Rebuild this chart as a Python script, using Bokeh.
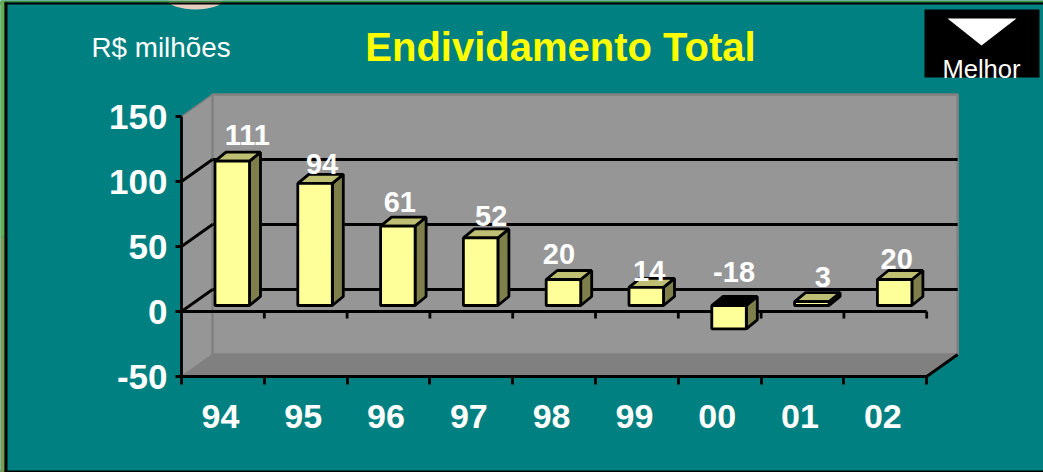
from bokeh.plotting import figure
from bokeh.embed import file_html
from bokeh.resources import INLINE
from bokeh.models import FixedTicker, ColumnDataSource, Range1d, LinearAxis
from bokeh.core.properties import value

# ---- data ----
categories = ["94", "95", "96", "97", "98", "99", "00", "01", "02"]
values = [111, 94, 61, 52, 20, 14, -18, 3, 20]
y_ticks = [-50, 0, 50, 100, 150]
y_tick_labels = ["-50", "0", "50", "100", "150"]
title_text = "Endividamento Total"
unit_text = "R$ milhões"
badge_text = "Melhor"

# ---- styles ----
TEAL = "#008080"
WALL = "#969696"
FLOOR = "#808080"
FRONT = "#FFFF99"
TOP = "#BFBF73"
SIDE = "#7F7F4C"
FONT = "Liberation Sans"
PX_X = 82.8   # pixels per category
PX_Y = 1.3    # pixels per unit
WALL_DX, WALL_DY = 31 / PX_X, 22 / PX_Y
BAR_DX, BAR_DY = 11 / PX_X, 9 / PX_Y
BAR_LEFT, BAR_W = 33.5 / PX_X, 34.5 / PX_X
BASE = 6 / PX_Y
ABS_L, ABS_ZERO = 181, 311      # page pixels of x=0 and of y=0
def X(px): return (px - ABS_L) / PX_X
def Y(py): return (ABS_ZERO - py) / PX_Y

n = len(categories)
W, H = 1043, 472
LW = 2.8

p = figure(width=W, height=H, output_backend="svg", toolbar_location=None,
           x_range=Range1d(X(0), X(W)), y_range=Range1d(Y(H), Y(0)),
           x_axis_location=None, y_axis_location=None,
           min_border=0, outline_line_color=None,
           background_fill_color=TEAL, border_fill_color=TEAL)
p.grid.visible = False

# ---- slide frame and the sliver of a logo at the top ----
p.ellipse(x=[X(195)], y=[Y(0)], width=[54 / PX_X], height=[18 / PX_Y], fill_color="#E6CDBF", line_color=None)
p.quad(left=[X(0)], right=[X(W)], top=[Y(0)], bottom=[Y(2)], fill_color="#3C8C3C", line_color=None)
p.quad(left=[X(0)], right=[X(W)], top=[Y(2)], bottom=[Y(4)], fill_color="black", line_color=None)
p.quad(left=[X(0)], right=[X(W)], top=[Y(470)], bottom=[Y(H)], fill_color="black", line_color=None)
p.quad(left=[X(0)], right=[X(4)], top=[Y(0)], bottom=[Y(236)], fill_color="#64AE4C", line_color=None)
p.quad(left=[X(0)], right=[X(4)], top=[Y(236)], bottom=[Y(H)], fill_color="#7A9C4C", line_color=None)
p.quad(left=[X(4)], right=[X(7)], top=[Y(2)], bottom=[Y(H)], fill_color="black", line_color=None)

# ---- axes ----
y0, y1 = y_ticks[0], y_ticks[-1]
ya = LinearAxis(fixed_location=0)
ya.ticker = FixedTicker(ticks=y_ticks)
ya.major_label_overrides = dict(zip(y_ticks, y_tick_labels))
ya.bounds = (y0, y1)
ya.axis_line_color = "black"; ya.axis_line_width = LW
ya.major_tick_line_color = "black"; ya.major_tick_line_width = LW
ya.major_tick_in = 0; ya.major_tick_out = 6
ya.minor_tick_line_color = None
ya.major_label_standoff = 8
ya.major_label_text_font = FONT; ya.major_label_text_font_style = "bold"
ya.major_label_text_font_size = "35px"; ya.major_label_text_color = "white"
p.add_layout(ya, "left")

xa = LinearAxis(fixed_location=y0)
centers = [i + 0.47 for i in range(n)]
xa.ticker = FixedTicker(ticks=centers, minor_ticks=list(range(n + 1)))
xa.major_label_overrides = dict(zip(centers, categories))
xa.bounds = (0, n)
xa.axis_line_color = "black"; xa.axis_line_width = LW
xa.major_tick_line_color = None
xa.major_tick_in = 0; xa.major_tick_out = 0
xa.minor_tick_line_color = "black"; xa.minor_tick_line_width = LW
xa.minor_tick_in = 0; xa.minor_tick_out = 8
xa.major_label_standoff = 20
xa.major_label_text_font = FONT; xa.major_label_text_font_style = "bold"
xa.major_label_text_font_size = "34px"; xa.major_label_text_color = "white"
p.add_layout(xa, "below")

# ---- 3D box: left wall, back wall, floor ----
p.patch([0, WALL_DX, WALL_DX, 0], [y1, y1 + WALL_DY, y0 + WALL_DY, y0],
        fill_color=WALL, line_color=None)
p.patch([WALL_DX, n + WALL_DX, n + WALL_DX, WALL_DX],
        [y0 + WALL_DY, y0 + WALL_DY, y1 + WALL_DY, y1 + WALL_DY],
        fill_color=WALL, line_color=FLOOR, line_width=2.5)
p.patch([0, WALL_DX, n + WALL_DX, n], [y0, y0 + WALL_DY, y0 + WALL_DY, y0],
        fill_color=FLOOR, line_color=None)

# grid on wall and depth lines
for t in y_ticks:
    col = "black" if t not in (y0, y1) else FLOOR
    p.line([0, WALL_DX], [t, t + WALL_DY], line_color=col, line_width=LW if col == "black" else 1.5)
    if col == "black":
        p.line([WALL_DX, n + WALL_DX], [t + WALL_DY, t + WALL_DY], line_color="black", line_width=LW)
p.line([n, n + WALL_DX], [y0, y0 + WALL_DY], line_color="black", line_width=LW)

# zero line with its own ticks
p.line([0, n], [0, 0], line_color="black", line_width=LW)
p.segment(list(range(1, n + 1)), [0] * n, list(range(1, n + 1)), [-7 / PX_Y] * n,
          line_color="black", line_width=LW)

# ---- bars: they stand mid-depth, so they are lifted by BASE off the front plane ----
lefts = [i + BAR_LEFT for i in range(n)]
rights = [l + BAR_W for l in lefts]
front_top = [max(v, 0) + BASE for v in values]
bottoms = [min(v, 0) + BASE for v in values]

side_xs = [[r, r + BAR_DX, r + BAR_DX, r] for r in rights]
side_ys = [[t, t + BAR_DY, b + BAR_DY, b] for t, b in zip(front_top, bottoms)]
top_xs = [[l, l + BAR_DX, r + BAR_DX, r] for l, r in zip(lefts, rights)]
top_ys = [[t, t + BAR_DY, t + BAR_DY, t] for t in front_top]
top_cols = [TOP if v > 0 else "black" for v in values]

p.patches(side_xs, side_ys, fill_color=SIDE, line_color="black", line_width=LW)
p.patches(top_xs, top_ys, fill_color=top_cols, line_color="black", line_width=LW)
p.quad(left=lefts, right=rights, top=front_top, bottom=bottoms,
       fill_color=FRONT, line_color="black", line_width=LW)

# value labels (nudged in pixels, as placed in the original)
nudge_x = [15, 7, 2, 10.5, -4.5, 3, 5, 11, 2]
nudge_y = [-26.7, -19.8, -24.7, -22.4, -26, -16.8, -34, -25, -21]
lab = ColumnDataSource(dict(x=[l + BAR_W / 2 for l in lefts], y=front_top,
                            t=[str(v) for v in values], xo=nudge_x, yo=nudge_y))
p.text(x="x", y="y", text="t", source=lab, x_offset="xo", y_offset="yo",
       text_align="center", text_baseline="middle", text_color="white",
       text_font=value(FONT), text_font_style="bold", text_font_size="29px")

# ---- "Melhor" badge ----
p.quad(left=[X(924)], right=[X(1039)], top=[Y(9)], bottom=[Y(77)], fill_color="black", line_color=None)
p.patch([X(947), X(1016), X(981)], [Y(18), Y(18), Y(45)], fill_color="white", line_color=None)
p.text(x=[X(981)], y=[Y(68)], text=[badge_text], text_align="center", text_baseline="middle",
       text_color="white", text_font=value(FONT), text_font_size="25.6px")

# ---- title and unit ----
p.text(x=[X(560)], y=[Y(46)], text=[title_text], text_align="center", text_baseline="middle",
       text_color="#FFFF00", text_font=value(FONT), text_font_style="bold", text_font_size="40px")
p.text(x=[X(91)], y=[Y(47)], text=[unit_text], text_align="left", text_baseline="middle",
       text_color="white", text_font=value(FONT), text_font_size="27.8px")

open("out.html", "w").write(file_html(p, INLINE))
